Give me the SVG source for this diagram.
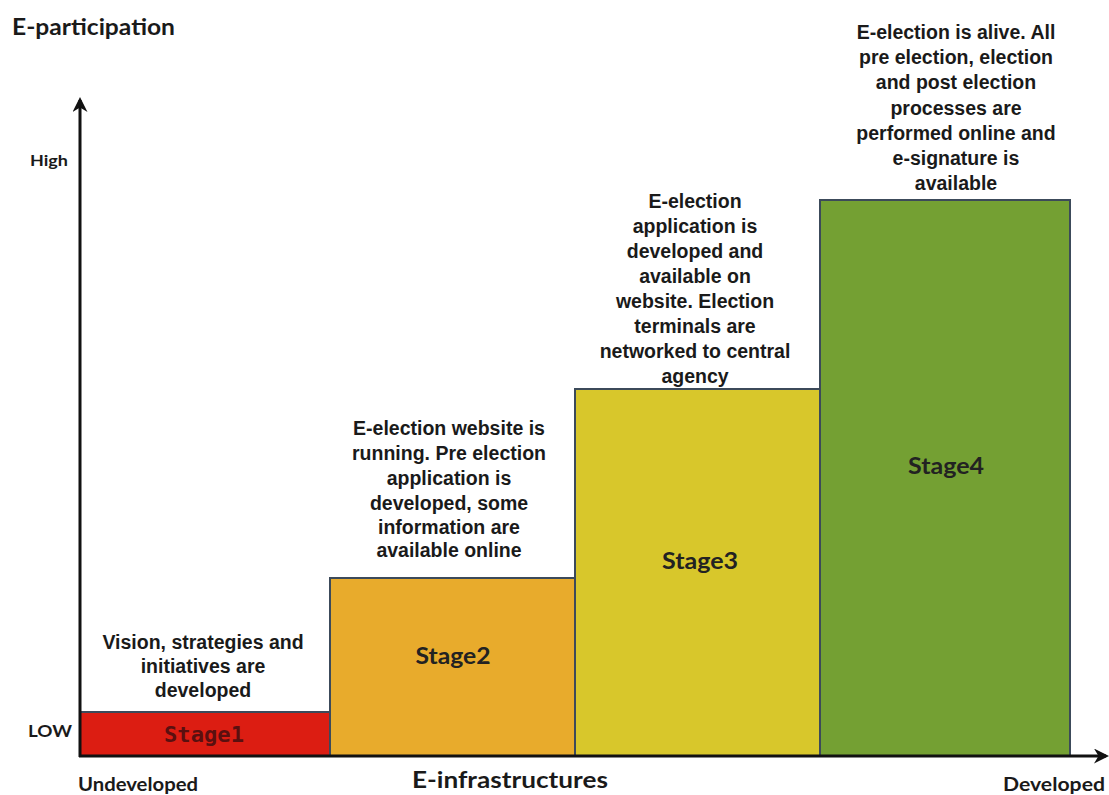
<svg xmlns="http://www.w3.org/2000/svg" width="1109" height="795" viewBox="0 0 1109 795">
<style>
.desc{font-family:"Liberation Sans",Arial,sans-serif;font-weight:bold;font-size:19.5px;fill:#1a1a1a;text-anchor:middle}
.lab{font-family:Lato,"Open Sans",sans-serif;font-weight:bold;fill:#1a1a1a}
.stage{font-family:Lato,"Open Sans",sans-serif;font-weight:bold;font-size:22px;fill:#222;text-anchor:middle}
.box{stroke:#3c4a5a;stroke-width:2}
.axis{stroke:#111;stroke-width:3;fill:none}
</style>
<defs>
<marker id="arr" viewBox="0 0 10 10" refX="8" refY="5" markerWidth="5" markerHeight="5" orient="auto" markerUnits="strokeWidth">
<path d="M0,0 L10,5 L0,10 L3,5 z" fill="#111"/>
</marker>
</defs>
<rect width="1109" height="795" fill="#fff"/>
<g id="stage1">
<rect class="box" x="80" y="712" width="250" height="44" fill="#dc1d12"/>
<text x="204" y="742" text-anchor="middle" style="fill:#5a1010;font-family:'DejaVu Sans Mono','Liberation Mono',monospace;font-weight:bold;font-size:21px" textLength="80" lengthAdjust="spacingAndGlyphs">Stage1</text>
<text class="desc" x="203" y="649">Vision, strategies and</text>
<text class="desc" x="203" y="673">initiatives are</text>
<text class="desc" x="203" y="697">developed</text>
</g>
<g id="stage2">
<rect class="box" x="330" y="578" width="245" height="178" fill="#e8ab2c"/>
<text class="stage" x="453" y="664" textLength="75" lengthAdjust="spacingAndGlyphs">Stage2</text>
<text class="desc" x="449" y="435">E-election website is</text>
<text class="desc" x="449" y="460">running. Pre election</text>
<text class="desc" x="449" y="485">application is</text>
<text class="desc" x="449" y="510">developed, some</text>
<text class="desc" x="449" y="534">information are</text>
<text class="desc" x="449" y="557">available online</text>
</g>
<g id="stage3">
<rect class="box" x="575" y="389" width="245" height="367" fill="#d8c72b"/>
<text class="stage" x="700" y="569" textLength="76" lengthAdjust="spacingAndGlyphs">Stage3</text>
<text class="desc" x="695" y="208">E-election</text>
<text class="desc" x="695" y="233">application is</text>
<text class="desc" x="695" y="258">developed and</text>
<text class="desc" x="695" y="283">available on</text>
<text class="desc" x="695" y="308">website. Election</text>
<text class="desc" x="695" y="333">terminals are</text>
<text class="desc" x="695" y="358">networked to central</text>
<text class="desc" x="695" y="383">agency</text>
</g>
<g id="stage4">
<rect class="box" x="820" y="200" width="250" height="556" fill="#74a033"/>
<text class="stage" x="946" y="474" textLength="76" lengthAdjust="spacingAndGlyphs">Stage4</text>
<text class="desc" x="956" y="39">E-election is alive. All</text>
<text class="desc" x="956" y="64">pre election, election</text>
<text class="desc" x="956" y="89">and post election</text>
<text class="desc" x="956" y="115">processes are</text>
<text class="desc" x="956" y="140">performed online and</text>
<text class="desc" x="956" y="165">e-signature is</text>
<text class="desc" x="956" y="190">available</text>
</g>
<g id="connectors">
<line class="axis" x1="80" y1="757" x2="80" y2="100" marker-end="url(#arr)"/>
<line class="axis" x1="79" y1="756" x2="1106" y2="756" marker-end="url(#arr)"/>
</g>
<g id="labels">
<text class="lab" x="12" y="35" font-size="22" textLength="163" lengthAdjust="spacingAndGlyphs">E-participation</text>
<text class="lab" x="30" y="166" font-size="16" textLength="38" lengthAdjust="spacingAndGlyphs">High</text>
<text class="lab" x="28" y="737" font-size="17" textLength="44" lengthAdjust="spacingAndGlyphs">LOW</text>
<text class="lab" x="78" y="791" font-size="18" textLength="120" lengthAdjust="spacingAndGlyphs">Undeveloped</text>
<text class="lab" x="412" y="788" font-size="23" textLength="196" lengthAdjust="spacingAndGlyphs">E-infrastructures</text>
<text class="lab" x="1003" y="791" font-size="18" textLength="102" lengthAdjust="spacingAndGlyphs">Developed</text>
</g>
</svg>
